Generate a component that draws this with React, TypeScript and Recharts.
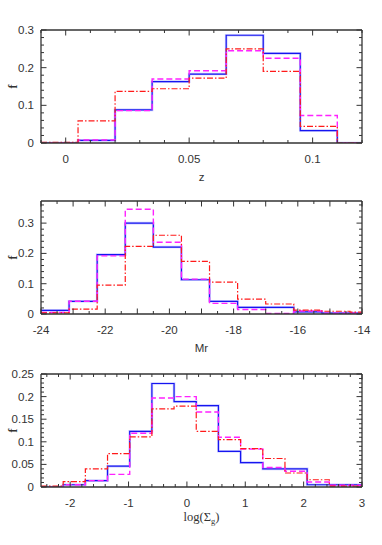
import React from 'react';
import { LineChart, Line, XAxis, YAxis } from 'recharts';

// ---------- Panel 1: redshift z ----------
const Z_EDGES = [-0.01, 0.005, 0.02, 0.035, 0.05, 0.065, 0.08, 0.095, 0.11, 0.125];
const Z_BLUE = [0.0, 0.007, 0.088, 0.163, 0.183, 0.286, 0.238, 0.033, 0.0];
const Z_MAGENTA = [0.001, 0.008, 0.086, 0.17, 0.192, 0.245, 0.225, 0.073, 0.0];
const Z_RED = [0.002, 0.059, 0.137, 0.144, 0.172, 0.25, 0.19, 0.044, 0.0];
const Z_XLABELS = [0, 0.05, 0.1];
const Z_YLABELS = [0, 0.1, 0.2, 0.3];

// ---------- Panel 2: absolute magnitude Mr ----------
const MR_EDGES = [-24, -23.125, -22.25, -21.375, -20.5, -19.625, -18.75, -17.875, -17, -16.125, -15.25, -14.375, -13.5];
const MR_BLUE = [0.012, 0.042, 0.196, 0.3, 0.221, 0.113, 0.042, 0.022, 0.022, 0.007, 0.003, 0.003];
const MR_MAGENTA = [0.005, 0.042, 0.192, 0.346, 0.237, 0.115, 0.035, 0.015, 0.002, 0.01, 0.003, 0.003];
const MR_RED = [0.004, 0.016, 0.095, 0.223, 0.26, 0.174, 0.105, 0.049, 0.033, 0.013, 0.009, 0.006];
const MR_XLABELS = [-24, -22, -20, -18, -16, -14];
const MR_YLABELS = [0, 0.1, 0.2, 0.3];

// ---------- Panel 3: log(Sigma_g) ----------
const LS_EDGES = [-2.5, -2.12, -1.74, -1.36, -0.98, -0.6, -0.22, 0.16, 0.54, 0.92, 1.3, 1.68, 2.06, 2.44, 2.82, 3.2];
const LS_BLUE = [0.0, 0.005, 0.014, 0.046, 0.123, 0.229, 0.189, 0.18, 0.079, 0.054, 0.04, 0.04, 0.005, 0.005, 0.005];
const LS_MAGENTA = [0.0, 0.005, 0.014, 0.028, 0.119, 0.197, 0.2, 0.166, 0.11, 0.084, 0.043, 0.035, 0.011, 0.004, 0.004];
const LS_RED = [0.002, 0.012, 0.04, 0.074, 0.111, 0.173, 0.179, 0.123, 0.105, 0.085, 0.063, 0.031, 0.016, 0.002, 0.002];
const LS_XLABELS = [-2, -1, 0, 1, 2, 3];
const LS_YLABELS = [0, 0.05, 0.1, 0.15, 0.2, 0.25];

const TICK_FONT = '"Liberation Sans", Arial, sans-serif';
const SERIF_FONT = '"Liberation Serif", "Times New Roman", serif';
const FRAME = '#333';
const TEXT = '#333';

function buildData(edges: number[], b: number[], m: number[], r: number[]) {
  return edges.map((e, i) => {
    const k = Math.min(i, b.length - 1);
    return { x: e, blue: b[k], magenta: m[k], red: r[k] };
  });
}

function range(start: number, end: number, step: number) {
  const out: number[] = [];
  const n = Math.round((end - start) / step);
  for (let i = 0; i <= n; i++) out.push(+(start + i * step).toFixed(6));
  return out;
}

const near = (a: number, b: number) => Math.abs(a - b) < 1e-6;
const isMajor = (v: number, major: number) => near(v / major, Math.round(v / major));

function fmt(v: number) {
  return String(+v.toFixed(4));
}

type TickOpts = {
  side: 'bottom' | 'top' | 'left' | 'right';
  labels: number[];
  major: number;
  showLabels: boolean;
};

function makeTick(opts: TickOpts) {
  return (props: any) => {
    const { x, y, payload } = props;
    const v = payload.value as number;
    const len = isMajor(v, opts.major) ? 5.5 : 3;
    let line: any;
    if (opts.side === 'bottom') line = <line x1={x} x2={x} y1={y} y2={y - len} stroke={FRAME} strokeWidth={1} />;
    else if (opts.side === 'top') line = <line x1={x} x2={x} y1={y} y2={y + len} stroke={FRAME} strokeWidth={1} />;
    else if (opts.side === 'left') line = <line x1={x} x2={x + len} y1={y} y2={y} stroke={FRAME} strokeWidth={1} />;
    else line = <line x1={x} x2={x - len} y1={y} y2={y} stroke={FRAME} strokeWidth={1} />;
    const lab = opts.showLabels ? opts.labels.find((l) => near(l, v)) : undefined;
    let text: any = null;
    if (lab !== undefined) {
      if (opts.side === 'bottom') {
        text = (
          <text x={x} y={y + 19.5} textAnchor="middle" fontFamily={TICK_FONT} fontSize={11.5} fill={TEXT}>
            {fmt(lab)}
          </text>
        );
      } else if (opts.side === 'left') {
        text = (
          <text x={x - 7} y={y + 4} textAnchor="end" fontFamily={TICK_FONT} fontSize={11.5} fill={TEXT}>
            {fmt(lab)}
          </text>
        );
      }
    }
    return (
      <g>
        {line}
        {text}
      </g>
    );
  };
}

type PanelProps = {
  top: number;
  height: number;
  plotTop: number;
  plotBottom: number;
  edges: number[];
  blue: number[];
  magenta: number[];
  red: number[];
  xDomain: [number, number];
  yDomain: [number, number];
  xTicks: number[];
  yTicks: number[];
  xMajor: number;
  yMajor: number;
  xLabels: number[];
  yLabels: number[];
  xTitle: (cx: number, y: number) => any;
  xTitleOffset: number;
};

const PLOT_LEFT = 41;
const PLOT_RIGHT = 362;
const W = 382;

function Panel(p: PanelProps) {
  const data = buildData(p.edges, p.blue, p.magenta, p.red);
  // each axis occupies 1px outside the plot area
  const margin = {
    top: p.plotTop - p.top - 1,
    bottom: p.top + p.height - p.plotBottom - 1,
    left: PLOT_LEFT - 1,
    right: W - PLOT_RIGHT - 1,
  };
  const plotCx = (PLOT_LEFT + PLOT_RIGHT) / 2;
  const localBottom = p.plotBottom - p.top;
  const localCy = (p.plotTop + p.plotBottom) / 2 - p.top;
  return (
    <div style={{ position: 'absolute', left: 0, top: p.top }}>
      <LineChart width={W} height={p.height} data={data} margin={margin}>
        <XAxis
          dataKey="x"
          type="number"
          domain={p.xDomain}
          allowDataOverflow
          ticks={p.xTicks}
          interval={0}
          height={1}
          tickSize={0}
          tickMargin={0}
          tickLine={false}
          axisLine={{ stroke: FRAME, strokeWidth: 1.3 }}
          tick={makeTick({ side: 'bottom', labels: p.xLabels, major: p.xMajor, showLabels: true })}
          label={() => p.xTitle(plotCx, localBottom + p.xTitleOffset)}
        />
        <XAxis
          xAxisId="top"
          orientation="top"
          dataKey="x"
          type="number"
          domain={p.xDomain}
          allowDataOverflow
          ticks={p.xTicks}
          interval={0}
          height={1}
          tickSize={0}
          tickMargin={0}
          tickLine={false}
          axisLine={{ stroke: FRAME, strokeWidth: 1.3 }}
          tick={makeTick({ side: 'top', labels: [], major: p.xMajor, showLabels: false })}
        />
        <YAxis
          type="number"
          domain={p.yDomain}
          allowDataOverflow
          ticks={p.yTicks}
          interval={0}
          width={1}
          tickSize={0}
          tickMargin={0}
          tickLine={false}
          axisLine={{ stroke: FRAME, strokeWidth: 1.3 }}
          tick={makeTick({ side: 'left', labels: p.yLabels, major: p.yMajor, showLabels: true })}
          label={() => (
            <text
              x={13}
              y={localCy}
              transform={`rotate(-90 13 ${localCy})`}
              textAnchor="middle"
              dominantBaseline="central"
              fontFamily={SERIF_FONT}
              fontWeight="bold"
              fontSize={12}
              fill={TEXT}
            >
              f
            </text>
          )}
        />
        <YAxis
          yAxisId="right"
          orientation="right"
          type="number"
          domain={p.yDomain}
          allowDataOverflow
          ticks={p.yTicks}
          interval={0}
          width={1}
          tickSize={0}
          tickMargin={0}
          tickLine={false}
          axisLine={{ stroke: FRAME, strokeWidth: 1.3 }}
          tick={makeTick({ side: 'right', labels: [], major: p.yMajor, showLabels: false })}
        />
        <Line
          type="stepAfter"
          dataKey="blue"
          stroke="#9a9aff"
          strokeOpacity={0.5}
          strokeWidth={2.6}
          dot={false}
          activeDot={false}
          isAnimationActive={false}
        />
        <Line
          type="stepAfter"
          dataKey="blue"
          stroke="#1515f0"
          strokeWidth={1.2}
          dot={false}
          activeDot={false}
          isAnimationActive={false}
        />
        <Line
          type="stepAfter"
          dataKey="magenta"
          stroke="#ff22ff"
          strokeWidth={1.4}
          strokeDasharray="6 3"
          dot={false}
          activeDot={false}
          isAnimationActive={false}
        />
        <Line
          type="stepAfter"
          dataKey="red"
          stroke="#ff1a1a"
          strokeWidth={1.2}
          strokeDasharray="6 2 1.5 2"
          dot={false}
          activeDot={false}
          isAnimationActive={false}
        />
      </LineChart>
    </div>
  );
}

const sansTitle = (txt: string) => (cx: number, y: number) => (
  <text x={cx} y={y} textAnchor="middle" fontFamily={TICK_FONT} fontSize={11.5} fill={TEXT}>
    {txt}
  </text>
);

const logTitle = (cx: number, y: number) => (
  <text x={cx} y={y} textAnchor="middle" fontFamily={SERIF_FONT} fontSize={12.5} fill={TEXT}>
    log(Σ
    <tspan fontSize={8.5} dy={3}>
      g
    </tspan>
    <tspan dy={-3}>)</tspan>
  </text>
);

export default function App() {
  return (
    <div style={{ position: 'absolute', left: 0, top: 0, width: 382, height: 545, background: '#fff' }}>
      <Panel
        top={0}
        height={190}
        plotTop={30}
        plotBottom={143}
        edges={Z_EDGES}
        blue={Z_BLUE}
        magenta={Z_MAGENTA}
        red={Z_RED}
        xDomain={[-0.01, 0.12]}
        yDomain={[0, 0.3]}
        xTicks={range(-0.01, 0.12, 0.01)}
        yTicks={range(0, 0.3, 0.02)}
        xMajor={0.05}
        yMajor={0.1}
        xLabels={Z_XLABELS}
        yLabels={Z_YLABELS}
        xTitle={sansTitle('z')}
        xTitleOffset={38}
      />
      <Panel
        top={190}
        height={172}
        plotTop={201}
        plotBottom={314}
        edges={MR_EDGES}
        blue={MR_BLUE}
        magenta={MR_MAGENTA}
        red={MR_RED}
        xDomain={[-24, -14]}
        yDomain={[0, 0.373]}
        xTicks={range(-24, -14, 0.5)}
        yTicks={range(0, 0.36, 0.02)}
        xMajor={1}
        yMajor={0.1}
        xLabels={MR_XLABELS}
        yLabels={MR_YLABELS}
        xTitle={sansTitle('Mr')}
        xTitleOffset={38}
      />
      <Panel
        top={362}
        height={183}
        plotTop={374}
        plotBottom={487}
        edges={LS_EDGES}
        blue={LS_BLUE}
        magenta={LS_MAGENTA}
        red={LS_RED}
        xDomain={[-2.5, 3]}
        yDomain={[0, 0.25]}
        xTicks={range(-2.4, 3, 0.2)}
        yTicks={range(0, 0.25, 0.01)}
        xMajor={1}
        yMajor={0.05}
        xLabels={LS_XLABELS}
        yLabels={LS_YLABELS}
        xTitle={logTitle}
        xTitleOffset={34}
      />
    </div>
  );
}
